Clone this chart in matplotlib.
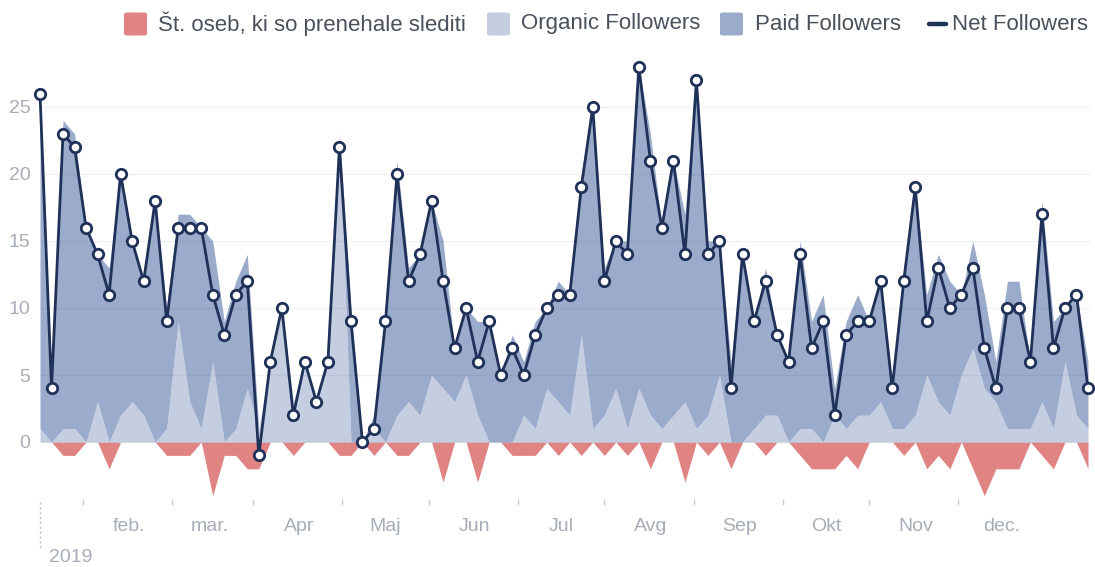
import numpy as np
import pandas as pd
import matplotlib
matplotlib.use("Agg")
import matplotlib.pyplot as plt
import matplotlib.dates as mdates
from matplotlib.patches import FancyBboxPatch
from matplotlib.lines import Line2D

plt.rcParams['font.family'] = ['Liberation Sans', 'DejaVu Sans']

# ---------------------------------------------------------------------
# data: one point every 4 days through 2019
# ---------------------------------------------------------------------
dates = pd.date_range('2019-01-01', periods=92, freq='4D')

net_followers = [26, 4, 23, 22, 16, 14, 11, 20, 15, 12, 18, 9, 16, 16, 16, 11, 8, 11, 12, -1,
                 6, 10, 2, 6, 3, 6, 22, 9, 0, 1, 9, 20, 12, 14, 18, 12, 7, 10, 6, 9,
                 5, 7, 5, 8, 10, 11, 11, 19, 25, 12, 15, 14, 28, 21, 16, 21, 14, 27, 14, 15,
                 4, 14, 9, 12, 8, 6, 14, 7, 9, 2, 8, 9, 9, 12, 4, 12, 19, 9, 13, 10,
                 11, 13, 7, 4, 10, 10, 6, 17, 7, 10, 11, 4]

organic_followers = [1, 0, 1, 1, 0, 3, 0, 2, 3, 2, 0, 1, 9, 3, 1, 6, 0, 1, 4, 1,
                     6, 10, 3, 6, 3, 6, 23, 0, 0, 1, 0, 2, 3, 2, 5, 4, 3, 5, 2, 0,
                     0, 0, 2, 1, 4, 3, 2, 8, 1, 2, 4, 1, 4, 2, 1, 2, 3, 1, 2, 5,
                     0, 0, 1, 2, 2, 0, 1, 1, 0, 2, 1, 2, 2, 3, 1, 1, 2, 5, 3, 2,
                     5, 7, 4, 3, 1, 1, 1, 3, 1, 6, 2, 1]

paid_followers = [25, 4, 23, 22, 16, 11, 13, 18, 12, 10, 18, 9, 8, 14, 15, 9, 9, 11, 10, 0,
                  0, 0, 0, 0, 0, 0, 0, 10, 0, 1, 9, 19, 10, 12, 13, 11, 4, 5, 7, 9,
                  5, 8, 4, 8, 6, 9, 9, 12, 24, 11, 11, 14, 24, 21, 15, 19, 14, 26, 13, 10,
                  6, 14, 8, 11, 6, 6, 14, 8, 11, 2, 8, 9, 7, 9, 3, 12, 17, 6, 11, 10,
                  6, 8, 7, 3, 11, 11, 5, 15, 8, 4, 9, 5]

unfollows = [0, 0, 1, 1, 0, 0, 2, 0, 0, 0, 0, 1, 1, 1, 0, 4, 1, 1, 2, 2,
             0, 0, 1, 0, 0, 0, 1, 1, 0, 1, 0, 1, 1, 0, 0, 3, 0, 0, 3, 0,
             0, 1, 1, 1, 0, 1, 0, 1, 0, 1, 0, 1, 0, 2, 0, 0, 3, 0, 1, 0,
             2, 0, 0, 1, 0, 0, 1, 2, 2, 2, 1, 2, 0, 0, 0, 1, 0, 2, 1, 2,
             0, 2, 4, 2, 2, 2, 0, 1, 2, 0, 0, 2]

month_starts = pd.date_range('2019-02-01', periods=11, freq='MS')
month_labels = ['feb.', 'mar.', 'Apr', 'Maj', 'Jun', 'Jul', 'Avg', 'Sep', 'Okt', 'Nov', 'dec.']
mid_ticks = pd.date_range('2019-01-01', periods=11, freq='MS') + pd.Timedelta(days=15)
y_ticks = [0, 5, 10, 15, 20, 25]

legend_labels = ['Št. oseb, ki so prenehale slediti', 'Organic Followers',
                 'Paid Followers', 'Net Followers']

# colours
RED = '#e08383'
LIGHT = '#c5cde1'
DARK = '#9babcb'
NAVY = '#1f3158'
GREY_TXT = '#a7adb8'

# ---------------------------------------------------------------------
# figure
# ---------------------------------------------------------------------
W, H = 1095, 567
fig = plt.figure(figsize=(W / 100, H / 100), dpi=100)
ax = fig.add_axes([40 / W, (H - 499) / H, 1050 / W, (499 - 60) / H])

x = mdates.date2num(dates)
organic = np.array(organic_followers)
paid = np.array(paid_followers)
unf = -np.array(unfollows)

ax.fill_between(x, 0, unf, color=RED, lw=0, zorder=1)
ax.fill_between(x, 0, organic, color=LIGHT, lw=0, zorder=1)
ax.fill_between(x, organic, organic + paid, color=DARK, lw=0, zorder=1)

for yv in y_ticks:
    ax.axhline(yv, color=(0.2, 0.25, 0.35, 0.07), lw=1, zorder=1.5)

ax.plot(x, net_followers, color=NAVY, lw=2.0, marker='o', ms=7.5,
        mfc='white', mec=NAVY, mew=2.0, zorder=3, clip_on=False)

# axes limits: 0 at px 442, 13.4 px per unit
px_per_unit = 13.4
ax.set_ylim(-(499 - 442) / px_per_unit, (442 - 60) / px_per_unit)
px_per_day = 1048 / 364
ax.set_xlim(x[0], x[0] + 1050 / px_per_day)

for s in ax.spines.values():
    s.set_visible(False)

ax.set_yticks(y_ticks)
ax.tick_params(axis='y', length=0, pad=7, labelsize=14, labelcolor=GREY_TXT)

ax.set_xticks(mdates.date2num(month_starts))
ax.set_xticklabels(month_labels)
ax.tick_params(axis='x', which='major', length=0, pad=14, labelsize=14, labelcolor=GREY_TXT)
ax.set_xticks(mdates.date2num(mid_ticks), minor=True)
ax.tick_params(axis='x', which='minor', length=4, width=1, color='#c8ccd4', direction='out')

# year marker
fig.add_artist(Line2D([39.5 / W, 39.5 / W], [(H - 502) / H, (H - 548) / H],
                      color='#b8bcc6', lw=1, ls=(0, (1.5, 2))))
fig.text(49 / W, (H - 558) / H, '2019', fontsize=14, color=GREY_TXT, va='center', ha='left')

# legend drawn by hand
leg_y = (H - 24) / H
sq_w, sq_h = 23 / W, 23 / H
for cx, col in [(124, RED), (487, LIGHT), (720, DARK)]:
    fig.add_artist(FancyBboxPatch((cx / W, leg_y - sq_h / 2), sq_w, sq_h,
                                  boxstyle='round,pad=0,rounding_size=0.003',
                                  fc=col, ec='none', transform=fig.transFigure))
fig.add_artist(Line2D([929 / W, 946 / W], [leg_y, leg_y], color=NAVY, lw=3.2,
                      solid_capstyle='round'))
for tx, lab in zip([158, 521, 755, 952], legend_labels):
    fig.text(tx / W, leg_y, lab, fontsize=16, color='#4a505c', va='center', ha='left')

fig.savefig('out.png', dpi=100)
